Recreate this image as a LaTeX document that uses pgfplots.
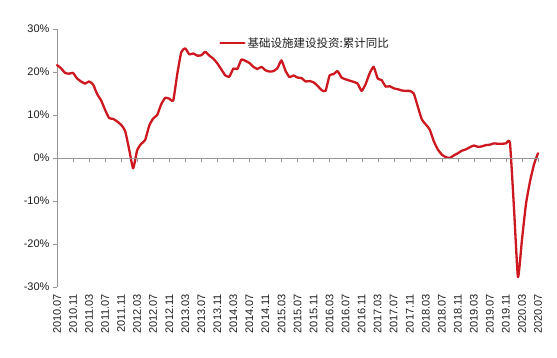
\documentclass[border=0pt]{standalone}
\usepackage{pgfplots}
\pgfplotsset{compat=1.18}
\usepackage{fontspec}
\setmainfont{Liberation Sans}
\newfontfamily\cjk{Noto Sans CJK SC}
\definecolor{linered}{RGB}{204,24,30}
\definecolor{axgray}{RGB}{150,150,150}
\definecolor{txt}{RGB}{30,30,30}
\pgfplotstableread{
m v
0 21.6
1 20.9
2 19.8
3 19.6
4 19.8
5 18.5
6 17.8
7 17.3
8 17.8
9 17.1
10 14.9
11 13.4
12 11.2
13 9.3
14 9.1
15 8.5
16 7.7
17 6.3
18 2.0
19 -2.4
20 1.8
21 3.3
22 4.2
23 7.5
24 9.2
25 10.0
26 12.5
27 14.0
28 13.8
29 13.4
30 19.5
31 24.6
32 25.5
33 24.1
34 24.3
35 23.8
36 23.9
37 24.7
38 23.8
39 23.1
40 22.0
41 20.6
42 19.2
43 18.9
44 20.8
45 20.7
46 22.9
47 22.6
48 22.1
49 21.2
50 20.7
51 21.2
52 20.4
53 20.1
54 20.2
55 20.9
56 22.7
57 20.3
58 18.8
59 19.2
60 18.7
61 18.6
62 17.8
63 17.9
64 17.6
65 16.8
66 15.8
67 15.6
68 19.2
69 19.5
70 20.2
71 18.7
72 18.3
73 18.0
74 17.7
75 17.3
76 15.6
77 17.2
78 19.7
79 21.2
80 18.5
81 18.1
82 16.6
83 16.7
84 16.2
85 16.0
86 15.7
87 15.6
88 15.6
89 15.0
90 12.0
91 9.0
92 7.8
93 6.6
94 3.9
95 2.0
96 0.8
97 0.2
98 0.0
99 0.6
100 1.1
101 1.7
102 2.0
103 2.5
104 2.9
105 2.6
106 2.7
107 3.0
108 3.1
109 3.4
110 3.3
111 3.3
112 3.4
113 3.5
114 -11.5
115 -27.7
116 -19.0
117 -10.7
118 -5.5
119 -1.5
120 1.1
}\infra
\begin{document}
\begin{tikzpicture}[x=1pt,y=1pt]
\useasboundingbox (-57,-71) rectangle (500,287);
\begin{axis}[
  at={(0,0)}, anchor=south west,
  scale only axis, width=481pt, height=258pt,
  xmin=0, xmax=120, ymin=-30, ymax=30,
  axis x line=bottom, axis y line=left,
  axis line style={-, draw=axgray},
  x axis line style={draw=none},
  xtick={0,4,...,120},
  xticklabels={2010.07,2010.11,2011.03,2011.07,2011.11,2012.03,2012.07,2012.11,2013.03,2013.07,2013.11,2014.03,2014.07,2014.11,2015.03,2015.07,2015.11,2016.03,2016.07,2016.11,2017.03,2017.07,2017.11,2018.03,2018.07,2018.11,2019.03,2019.07,2019.11,2020.03,2020.07},
  xtick style={draw=none},
  xticklabel style={rotate=90, anchor=east, font=\fontsize{11}{12}\selectfont, text=txt, inner sep=0pt, xshift=-3pt},
  ytick={-30,-20,...,30},
  yticklabel={\pgfmathprintnumber{\tick}\%},
  yticklabel style={font=\fontsize{11}{12}\selectfont, text=txt},
  ytick style={draw=axgray},
  tick align=outside,
  major tick length=4pt,
  /pgf/number format/assume math mode=true,
  legend style={draw=none, fill=none, at={(0.337,0.946)}, anchor=west, font=\cjk\fontsize{11.5}{12}\selectfont, text=txt, inner sep=0pt},
  legend image code/.code={\draw[#1] (0pt,0pt) -- (24pt,0pt);},
  clip=false,
]
\addplot[linered, line width=2.3pt, line join=round, line cap=round, smooth, tension=0.3] table[x=m,y=v] {\infra};
\addlegendentry{基础设施建设投资:累计同比}
\end{axis}
\begin{axis}[
  at={(0,0)}, anchor=south west,
  scale only axis, width=481pt, height=258pt,
  xmin=0, xmax=120, ymin=-30, ymax=30,
  axis x line=middle, axis y line=none,
  axis line style={-, draw=axgray},
  xtick={0,4,...,120}, xticklabels={},
  xtick style={draw=axgray},
  xtick align=outside,
  major tick length=4pt,
  ytick=\empty,
]
\end{axis}
\end{tikzpicture}
\end{document}
